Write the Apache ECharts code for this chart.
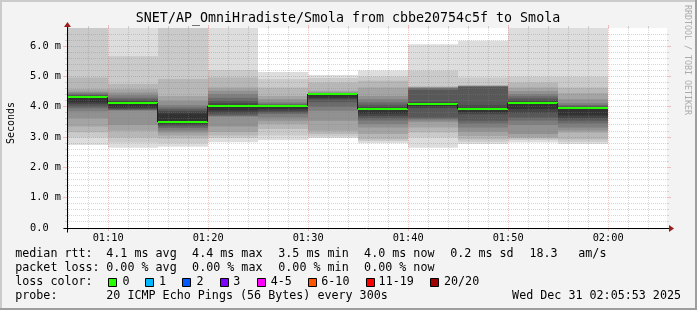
<!DOCTYPE html>
<html><head><meta charset="utf-8">
<script src="https://cdn.jsdelivr.net/npm/echarts@6/dist/echarts.min.js"></script>
<style>html,body{margin:0;padding:0;background:#f3f3f3}#c{width:697px;height:310px}</style>
</head><body><div id="c"></div><script>
// ---------------- data ----------------
const graphStart = '01:05:53';
const graphEnd = '02:05:53';
const slotMinutes = 5;
const slotEnds = ['01:10','01:15','01:20','01:25','01:30','01:35','01:40','01:45','01:50','01:55','02:00'];
const medianRtt = [4.33, 4.14, 3.49, 4.03, 4.03, 4.41, 3.93, 4.10, 3.93, 4.14, 3.97];
// 20 sorted ping rtts (ms) per 5-minute slot
const pings0110 = [2.74,2.99,3.16,3.35,3.62,3.85,3.95,4.00,4.08,4.15,4.33,4.36,4.39,4.42,4.46,4.50,4.58,4.97,6.80,7.20];
const pings0115 = [2.65,2.82,2.99,3.21,3.40,3.87,3.89,3.91,3.94,3.98,4.15,4.19,4.24,4.30,4.38,4.47,4.58,4.75,5.67,6.90];
const pings0120 = [2.68,2.80,2.95,3.05,3.15,3.22,3.30,3.36,3.40,3.46,3.78,3.85,3.92,3.98,4.05,4.20,4.36,4.92,6.90,7.30];
const pings0125 = [2.83,2.97,3.05,3.17,3.35,3.67,3.70,3.74,3.80,3.88,4.05,4.12,4.20,4.30,4.42,4.53,4.64,4.97,5.21,6.90];
const pings0130 = [2.90,3.05,3.27,3.43,3.54,3.65,3.76,3.80,3.85,3.92,4.04,4.05,4.07,4.10,4.15,4.25,4.36,4.64,4.92,5.15];
const pings0135 = [2.97,3.02,3.10,3.21,3.54,3.87,4.00,4.15,4.25,4.30,4.41,4.42,4.43,4.44,4.45,4.48,4.53,4.80,4.95,5.05];
const pings0140 = [2.80,2.87,2.93,3.10,3.32,3.43,3.55,3.62,3.70,3.78,3.95,4.00,4.07,4.15,4.25,4.36,4.64,4.86,5.00,5.20];
const pings0145 = [2.65,2.99,3.15,3.32,3.49,3.55,3.60,3.65,3.96,4.02,4.12,4.16,4.55,4.62,4.63,4.64,4.65,4.68,5.19,6.06];
const pings0150 = [2.77,2.85,2.93,3.04,3.18,3.32,3.45,3.54,3.75,3.82,3.96,4.05,4.66,4.67,4.68,4.69,4.70,4.72,4.97,6.18];
const pings0155 = [2.82,2.90,2.95,2.99,3.10,3.40,3.55,3.65,3.80,3.93,4.16,4.20,4.27,4.35,4.42,4.52,4.64,4.80,4.99,7.00];
const pings0200 = [2.77,2.85,2.93,3.15,3.22,3.32,3.45,3.54,3.62,3.71,3.98,4.00,4.02,4.06,4.12,4.25,4.45,4.64,4.99,6.90];
const xTickLabels = ['01:10','01:20','01:30','01:40','01:50','02:00'];
const yTickValues = [0, 1, 2, 3, 4, 5, 6];
const yTickLabels = ['0.0','1.0 m','2.0 m','3.0 m','4.0 m','5.0 m','6.0 m'];
const yMax = 6.6;
const titleText = 'SNET/AP_OmniHradiste/Smola from cbbe20754c5f to Smola';
const rttStats = ['4.1 ms avg','4.4 ms max','3.5 ms min','4.0 ms now','0.2 ms sd','18.3','am/s'];
const lossStats = ['0.00 % avg','0.00 % max','0.00 % min','0.00 % now'];
const lossLabels = ['0','1','2','3','4-5','6-10','11-19','20/20'];
const lossColors = ['#26ff00','#00b8ff','#0059ff','#7e00ff','#ff00ff','#ff5500','#ff0000','#a10000'];
const probeText = '20 ICMP Echo Pings (56 Bytes) every 300s';
const stampText = 'Wed Dec 31 02:05:53 2025';

// ---------------- build ----------------
const toMin = s => { const a = s.split(':').map(Number); return a[0]*60 + a[1] + (a[2]||0)/60; };
const t0 = toMin(graphStart), t1 = toMin(graphEnd);
const slotPings = [pings0110,pings0115,pings0120,pings0125,pings0130,pings0135,pings0140,pings0145,pings0150,pings0155,pings0200];
const smokeData = [];
slotEnds.forEach((e, i) => {
  const end = toMin(e), start = end - slotMinutes, p = slotPings[i];
  const half = p.length / 2;
  for (let k = 0; k < half; k++) smokeData.push([start, end, p[k], p[p.length - 1 - k], k]);
});
const medianData = slotEnds.map((e, i) => [toMin(e) - slotMinutes, toMin(e), medianRtt[i], i > 0 ? medianRtt[i-1] : medianRtt[i]]);
const gridData = [];
for (let m = Math.ceil(t0/2)*2; m <= t1; m += 2) gridData.push([0, m, m % 10 === 0 ? 1 : 0]);
for (let j = 0; j * 0.2 < yMax - 1e-6; j++) gridData.push([1, +(j*0.2).toFixed(1), j % 5 === 0 ? 1 : 0]);

const FONT = '"DejaVu Sans Mono", monospace';
const shade = k => { const g = Math.floor(190/10*(9-k)) + 50; return 'rgb(' + g + ',' + g + ',' + g + ')'; };

const chart = echarts.init(document.getElementById('c'), null, {renderer: 'canvas'});
const gLeft = 67, gTop = 28, gRight = 30, gBottom = 82;

function txt(text, x, y, size, opts) {
  opts = opts || {};
  return { type: 'text', x: x, y: y, rotation: opts.rot || 0, silent: true, z: 100,
    style: { text: text, fill: opts.color || '#000', font: size + 'px ' + FONT,
      align: opts.align || 'left', textAlign: opts.align || 'left',
      verticalAlign: 'middle', textVerticalAlign: 'middle' } };
}
const graphics = [];
graphics.push({type:'rect', shape:{x:0,y:0,width:697,height:2}, style:{fill:'#cbcbcb'}, silent:true});
graphics.push({type:'rect', shape:{x:0,y:0,width:2,height:310}, style:{fill:'#cbcbcb'}, silent:true});
graphics.push({type:'rect', shape:{x:0,y:308,width:697,height:2}, style:{fill:'#9e9e9e'}, silent:true});
graphics.push({type:'rect', shape:{x:695,y:0,width:2,height:310}, style:{fill:'#9e9e9e'}, silent:true});
graphics.push(txt(titleText, 348, 19, 13.3, {align:'center'}));
graphics.push(txt('Seconds', 11, 123, 10, {align:'center', rot: Math.PI/2}));
graphics.push(txt('RRDTOOL / TOBI OETIKER', 687, 60, 8.3, {align:'center', rot: -Math.PI/2, color:'#ababab'}));
const LS = 11.7;
const row1 = 254, row2 = 268, row3 = 282, row4 = 296;
graphics.push(txt('median rtt:', 15.2, row1, LS));
const rttX = [106.3, 192.1, 278.3, 364.1, 450.3, 529.4, 578.3];
rttStats.forEach((s, i) => graphics.push(txt(s, rttX[i], row1, LS)));
graphics.push(txt('packet loss:', 15.2, row2, LS));
lossStats.forEach((s, i) => graphics.push(txt(s, rttX[i], row2, LS)));
graphics.push(txt('loss color:', 15.2, row3, LS));
const boxX = [108, 145, 182, 219.5, 256.5, 307.5, 365.5, 430];
const lblX = [122.5, 159, 196.4, 233.3, 270.7, 321.3, 378.6, 444];
lossLabels.forEach((l, i) => {
  graphics.push({type:'rect', silent:true, z:100, shape:{x:Math.round(boxX[i])+0.5, y:278.5, width:8, height:8}, style:{fill:lossColors[i], stroke:'#000', lineWidth:1}});
  graphics.push(txt(l, lblX[i], row3, LS));
});
graphics.push(txt('probe:', 15.2, row4, LS));
graphics.push(txt(probeText, 106.3, row4, LS));
graphics.push(txt(stampText, 681, row4, LS, {align:'right'}));

const option = {
  backgroundColor: '#f3f3f3',
  animation: false,
  grid: { left: gLeft, top: gTop, right: gRight, bottom: gBottom, show: true, backgroundColor: '#ffffff', borderWidth: 0 },
  xAxis: { type: 'value', min: t0, max: t1,
    axisLine: {show: false}, axisTick: {show: false}, splitLine: {show: false},
    axisLabel: { customValues: xTickLabels.map(toMin), fontFamily: 'DejaVu Sans Mono', fontSize: 10.3, color: '#000', margin: 5,
      formatter: v => { const i = xTickLabels.findIndex(l => Math.abs(toMin(l) - v) < 1e-6); return i >= 0 ? xTickLabels[i] : ''; } } },
  yAxis: { type: 'value', min: 0, max: yMax, interval: 1,
    axisLine: {show: false}, axisTick: {show: false}, splitLine: {show: false},
    axisLabel: { customValues: yTickValues, fontFamily: 'DejaVu Sans Mono', fontSize: 10.3, color: '#000', align: 'left', margin: 37,
      formatter: v => { const i = yTickValues.findIndex(t => Math.abs(t - v) < 1e-6); return i >= 0 ? yTickLabels[i] : ''; } } },
  graphic: graphics,
  series: [
    { type: 'custom', name: 'smoke', z: 1, clip: true, data: smokeData,
      renderItem: (params, api) => {
        const a = api.coord([api.value(0), api.value(3)]), b = api.coord([api.value(1), api.value(2)]);
        const x0 = Math.round(a[0]), x1 = Math.round(b[0]);
        const rect = echarts.graphic.clipRectByRect({x: x0, y: a[1], width: x1 - x0, height: b[1] - a[1]}, params.coordSys);
        if (!rect) return null;
        return { type: 'rect', shape: rect, style: { fill: shade(api.value(4)) } };
      } },
    { type: 'custom', name: 'median', z: 3, clip: true, data: medianData,
      renderItem: (params, api) => {
        const a = api.coord([api.value(0), api.value(2)]), b = api.coord([api.value(1), api.value(2)]);
        const prev = api.coord([api.value(0), api.value(3)]);
        const x0 = Math.max(Math.round(a[0]), params.coordSys.x), x1 = Math.round(b[0]);
        const y = Math.round(a[1]);
        const vx = Math.round(a[0]) - 0.5;
        const ch = [];
        ch.push({ type: 'line', shape: {x1: vx, y1: Math.round(prev[1]), x2: vx, y2: y}, style: {stroke: '#202020', lineWidth: 1} });
        ch.push({ type: 'rect', shape: {x: x0, y: y - 1, width: x1 - x0, height: 2}, style: {fill: '#26ff00'} });
        return { type: 'group', children: ch };
      } },
    { type: 'custom', name: 'grid', z: 2, clip: false, data: gridData, silent: true,
      renderItem: (params, api) => {
        const cs = params.coordSys;
        const orient = api.value(0), v = api.value(1), major = api.value(2);
        const col = major ? 'rgba(224,80,80,0.34)' : 'rgba(128,128,128,0.32)';
        const ch = [];
        if (orient === 0) {
          const x = Math.floor(api.coord([v, 0])[0]) + 0.5;
          const top = cs.y, bot = cs.y + cs.height, tl = major ? 3 : 2;
          ch.push({type:'line', shape:{x1:x, y1:top, x2:x, y2:bot}, style:{stroke:col, lineWidth:1, lineDash:[1,1]}});
          ch.push({type:'line', shape:{x1:x, y1:top - tl, x2:x, y2:top}, style:{stroke:col, lineWidth:1}});
          ch.push({type:'line', shape:{x1:x, y1:bot, x2:x, y2:bot + tl}, style:{stroke:col, lineWidth:1}});
        } else {
          const y = Math.floor(api.coord([t0, v])[1]) + 0.5;
          const l = cs.x, r = cs.x + cs.width, tl = major ? 4 : 2;
          if (v > 0) ch.push({type:'line', shape:{x1:l, y1:y, x2:r, y2:y}, style:{stroke:col, lineWidth:1, lineDash:[1,1]}});
          ch.push({type:'line', shape:{x1:l - tl, y1:y, x2:l, y2:y}, style:{stroke:col, lineWidth:1}});
          ch.push({type:'line', shape:{x1:r, y1:y, x2:r + tl, y2:y}, style:{stroke:col, lineWidth:1}});
        }
        return {type:'group', children: ch};
      } },
    { type: 'custom', name: 'axes', z: 4, clip: false, data: [[t0, 0]], silent: true,
      renderItem: (params, api) => {
        const cs = params.coordSys;
        const o = api.coord([t0, 0]);
        const x = Math.floor(o[0]) + 0.5, y = Math.floor(o[1]) + 0.5;
        const r = cs.x + cs.width, top = cs.y;
        return { type: 'group', children: [
          {type:'line', shape:{x1:x - 4, y1:y, x2:r + 3, y2:y}, style:{stroke:'#000', lineWidth:1}},
          {type:'line', shape:{x1:x, y1:y + 4, x2:x, y2:top - 2}, style:{stroke:'#000', lineWidth:1}},
          {type:'polygon', shape:{points:[[r + 2, y - 3.5], [r + 2, y + 3.5], [r + 7, y]]}, style:{fill:'#9a1f1f'}},
          {type:'polygon', shape:{points:[[x - 3.5, top - 1], [x + 3.5, top - 1], [x, top - 6]]}, style:{fill:'#9a1f1f'}}
        ]};
      } }
  ]
};
chart.setOption(option);
</script></body></html>
